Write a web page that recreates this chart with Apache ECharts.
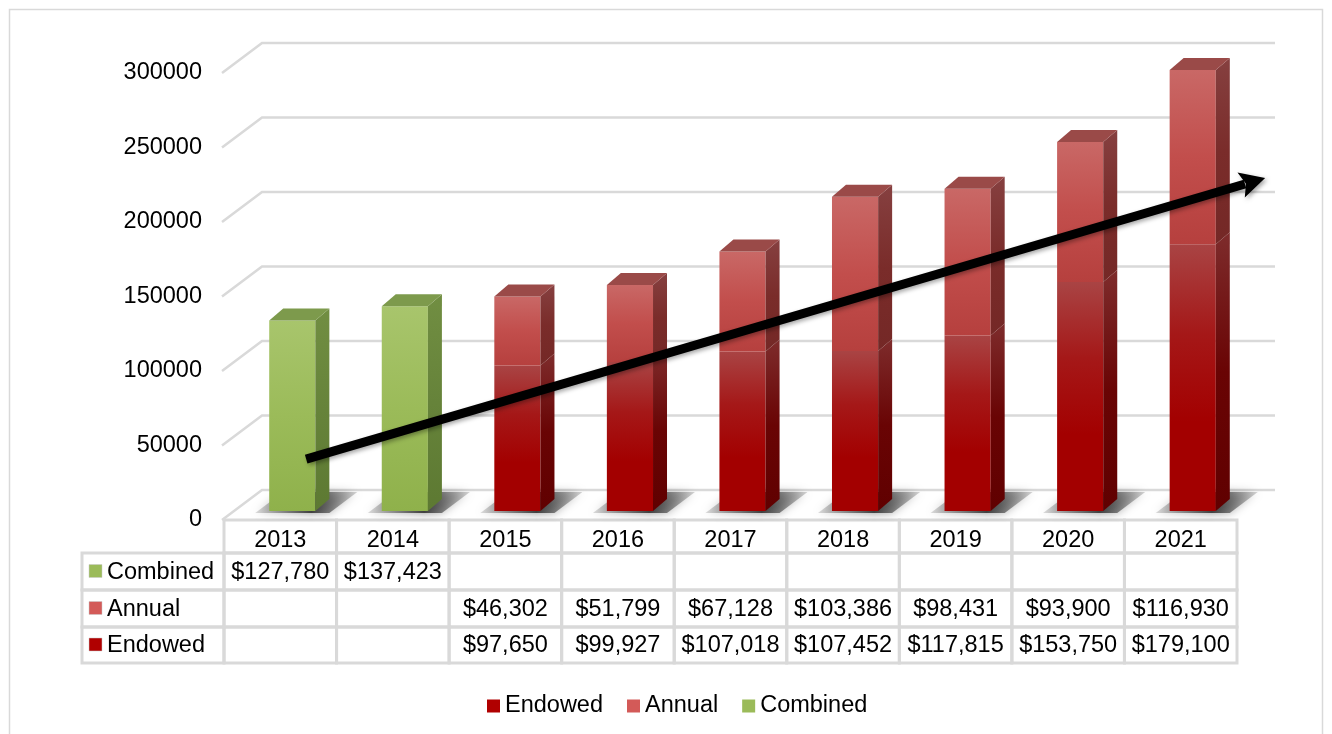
<!DOCTYPE html>
<html>
<head>
<meta charset="utf-8">
<script src="https://cdn.jsdelivr.net/npm/echarts@6/dist/echarts.min.js"></script>
<style>
html, body { margin: 0; padding: 0; background: #fff; }
#chart { width: 1332px; height: 734px; }
</style>
</head>
<body>
<div id="chart"></div>
<script>
const years = ['2013', '2014', '2015', '2016', '2017', '2018', '2019', '2020', '2021'];
const combined = [127780, 137423, null, null, null, null, null, null, null];
const annual = [null, null, 46302, 51799, 67128, 103386, 98431, 93900, 116930];
const endowed = [null, null, 97650, 99927, 107018, 107452, 117815, 153750, 179100];
const yTicks = [0, 50000, 100000, 150000, 200000, 250000, 300000];
// trend arrow: [x position in categories, value]
const trendStart = [0.23, 40900];
const trendTip = [8.75, 229500];

const FONT = 'Liberation Sans, Arial, sans-serif';
const FS = 23.5;
const GRID_LINE = '#d9d9d9';
// bar sits a little behind the front plane
const SHIFT_X = 12, SHIFT_Y = -9;
const DEPTH_X = 14, DEPTH_Y = -12;
// back wall offset
const WALL_X = 38, WALL_Y = -30;

const money = v => v == null ? '' : '$' + v.toLocaleString('en-US');
const grad = stops => new echarts.graphic.LinearGradient(0, 0, 0, 1,
    stops.map((c, k) => ({ offset: k / (stops.length - 1), color: c })));

const styles = {
    Endowed: {
        front: ['#a94444', '#a51818', '#a30000', '#a30000'],
        side: ['#7e2c2c', '#690404', '#600000'],
        top: '#8a3535'
    },
    Annual: {
        front: ['#c96866', '#c24e4c', '#b6403e'],
        side: ['#864040', '#7a2c2a', '#742826'],
        top: '#9a4a48'
    },
    Combined: {
        front: ['#a8c56c', '#9bbb59', '#8fb14b'],
        side: ['#718e42', '#66833a', '#5d7932'],
        top: '#7d9a4c'
    }
};

function barRender(name, hasTop, hasShadow) {
    const st = styles[name];
    return function (params, api) {
        const i = api.value(0), lo = api.value(1), hi = api.value(2);
        const pLo = api.coord([i, lo]);
        const pHi = api.coord([i, hi]);
        const w = api.size([1, 0])[0] * 0.41;
        const xL = pLo[0] + SHIFT_X - w / 2, xR = xL + w;
        const yB = pLo[1] + SHIFT_Y, yT = pHi[1] + SHIFT_Y;
        const children = [];
        if (hasShadow) {
            children.push({
                type: 'polygon',
                shape: { points: [[xL - 14, yB + 2], [xR + 14, yB + 2], [xR + 42, yB - 19], [xL + 14, yB - 19]] },
                style: {
                    fill: new echarts.graphic.LinearGradient(0, 0, 1, 0, [
                        { offset: 0, color: 'rgba(90,90,90,0.2)' },
                        { offset: 0.55, color: 'rgba(50,50,50,0.9)' },
                        { offset: 1, color: 'rgba(90,90,90,0.25)' }
                    ]),
                    shadowBlur: 10, shadowColor: 'rgba(0,0,0,0.5)'
                }
            });
        }
        children.push({
            type: 'rect',
            shape: { x: xL, y: yT, width: w, height: yB - yT },
            style: { fill: grad(st.front) }
        });
        children.push({
            type: 'polygon',
            shape: { points: [[xR, yT], [xR + DEPTH_X, yT + DEPTH_Y], [xR + DEPTH_X, yB + DEPTH_Y], [xR, yB]] },
            style: { fill: grad(st.side) }
        });
        if (hasTop) {
            children.push({
                type: 'polygon',
                shape: { points: [[xL, yT], [xL + DEPTH_X, yT + DEPTH_Y], [xR + DEPTH_X, yT + DEPTH_Y], [xR, yT]] },
                style: { fill: st.top }
            });
        }
        return { type: 'group', children: children };
    };
}

function gridRender(params, api) {
    const y = api.coord([0, api.value(1)])[1];
    const x0 = params.coordSys.x;
    const w = params.coordSys.width;
    return {
        type: 'polyline',
        shape: { points: [[x0 - 2, y], [x0 + WALL_X, y + WALL_Y], [x0 + WALL_X + w, y + WALL_Y]] },
        style: { stroke: GRID_LINE, lineWidth: 2.5, fill: null }
    };
}

function arrowRender(params, api) {
    const a = api.coord([api.value(0), api.value(1)]);
    const b = api.coord([api.value(2), api.value(3)]);
    const dx = b[0] - a[0], dy = b[1] - a[1];
    const len = Math.sqrt(dx * dx + dy * dy);
    const ux = dx / len, uy = dy / len;
    const headL = 25, headW = 13;
    const base = [b[0] - ux * headL, b[1] - uy * headL];
    const shadow = { shadowBlur: 4, shadowColor: 'rgba(0,0,0,0.35)', shadowOffsetX: 2, shadowOffsetY: 2 };
    return {
        type: 'group',
        children: [{
            type: 'line',
            shape: { x1: a[0], y1: a[1], x2: base[0] + ux * 4, y2: base[1] + uy * 4 },
            style: Object.assign({ stroke: '#000', lineWidth: 9 }, shadow)
        }, {
            type: 'polygon',
            shape: { points: [b, [base[0] - uy * headW, base[1] + ux * headW], [base[0] + ux * 5, base[1] + uy * 5], [base[0] + uy * headW, base[1] - ux * headW]] },
            style: Object.assign({ fill: '#000' }, shadow)
        }]
    };
}

const ROWS = [0, 33, 70, 107, 143];
const rowNames = ['Combined', 'Annual', 'Endowed'];
const rowValues = [combined, annual, endowed];
const keyColors = ['#9bbb59', '#d35a58', '#b00000'];

function cellText(x, y, text, align) {
    return {
        type: 'text',
        style: {
            x: x, y: y, text: text, fill: '#000', font: FS + 'px ' + FONT,
            align: align || 'center', verticalAlign: 'middle'
        }
    };
}

function tableRender(params, api) {
    const i = api.value(0);
    const cx = api.coord([i, 0])[0];
    const yb = params.coordSys.y + params.coordSys.height;
    const band = api.size([1, 0])[0];
    const xl = cx - band / 2;
    const children = [];
    const line = { stroke: GRID_LINE, lineWidth: 3, fill: null };
    for (let r = 0; r < 4; r++) {
        children.push({
            type: 'rect',
            shape: { x: xl, y: yb + ROWS[r], width: band, height: ROWS[r + 1] - ROWS[r] },
            style: line
        });
    }
    for (let r = 0; r < 3; r++) {
        const yc = yb + (ROWS[r + 1] + ROWS[r + 2]) / 2;
        children.push(cellText(cx, yc + 1, money(rowValues[r][i])));
    }
    if (i === 0) {
        const hx = 82;
        for (let r = 0; r < 3; r++) {
            const y0 = yb + ROWS[r + 1], y1 = yb + ROWS[r + 2];
            children.push({
                type: 'rect',
                shape: { x: hx, y: y0, width: xl - hx, height: y1 - y0 },
                style: line
            });
            children.push({
                type: 'rect',
                shape: { x: hx + 7, y: (y0 + y1) / 2 - 7, width: 13, height: 13 },
                style: { fill: keyColors[r], stroke: '#c8c8c8', lineWidth: 0.5 }
            });
            children.push(cellText(hx + 25, (y0 + y1) / 2 + 1, rowNames[r], 'left'));
        }
    }
    return { type: 'group', children: children };
}

const endowedData = endowed.map((v, i) => v == null ? null : [i, 0, v]).filter(Boolean);
const annualData = annual.map((v, i) => v == null ? null : [i, endowed[i], endowed[i] + v]).filter(Boolean);
const combinedData = combined.map((v, i) => v == null ? null : [i, 0, v]).filter(Boolean);

const chart = echarts.init(document.getElementById('chart'));
chart.setOption({
    animation: false,
    textStyle: { fontFamily: FONT },
    graphic: [{
        type: 'rect',
        shape: { x: 9.5, y: 9.5, width: 1313, height: 740 },
        style: { fill: null, stroke: GRID_LINE, lineWidth: 1.5 },
        silent: true
    }],
    grid: { left: 224, right: 95, top: 73, bottom: 214 },
    legend: {
        data: ['Endowed', 'Annual', 'Combined'],
        left: 482, top: 689,
        icon: 'rect', itemWidth: 13, itemHeight: 13, itemGap: 24,
        textStyle: { fontSize: FS, color: '#000', fontFamily: FONT }
    },
    xAxis: [{
        type: 'category',
        data: years,
        axisLine: { show: false },
        axisTick: { show: false },
        axisLabel: { fontSize: FS, color: '#000', margin: 9 }
    }, {
        type: 'value', min: -0.5, max: 8.5, show: false
    }],
    yAxis: {
        type: 'value', min: 0, max: 300000, interval: 50000,
        axisLine: { show: false },
        axisTick: { show: false },
        splitLine: { show: false },
        axisLabel: { fontSize: FS, color: '#000', margin: 22, formatter: v => String(v) }
    },
    series: [{
        type: 'custom', name: 'grid', silent: true, z: 1,
        data: yTicks.map(v => [0, v]),
        encode: { x: 0, y: 1 },
        renderItem: gridRender
    }, {
        type: 'custom', name: 'table', silent: true, z: 1,
        data: years.map((y, i) => [i, 0]),
        encode: { x: 0, y: 1 },
        renderItem: tableRender
    }, {
        type: 'custom', name: 'Endowed', z: 2,
        itemStyle: { color: '#b00000' },
        data: endowedData,
        encode: { x: 0, y: [1, 2] },
        renderItem: barRender('Endowed', false, true)
    }, {
        type: 'custom', name: 'Annual', z: 3,
        itemStyle: { color: '#d35a58' },
        data: annualData,
        encode: { x: 0, y: [1, 2] },
        renderItem: barRender('Annual', true, false)
    }, {
        type: 'custom', name: 'Combined', z: 2,
        itemStyle: { color: '#9bbb59' },
        data: combinedData,
        encode: { x: 0, y: [1, 2] },
        renderItem: barRender('Combined', true, true)
    }, {
        type: 'custom', name: 'trend', xAxisIndex: 1, z: 10, silent: true,
        data: [[trendStart[0], trendStart[1], trendTip[0], trendTip[1]]],
        encode: { x: [0, 2], y: [1, 3] },
        renderItem: arrowRender
    }]
});
</script>
</body>
</html>
